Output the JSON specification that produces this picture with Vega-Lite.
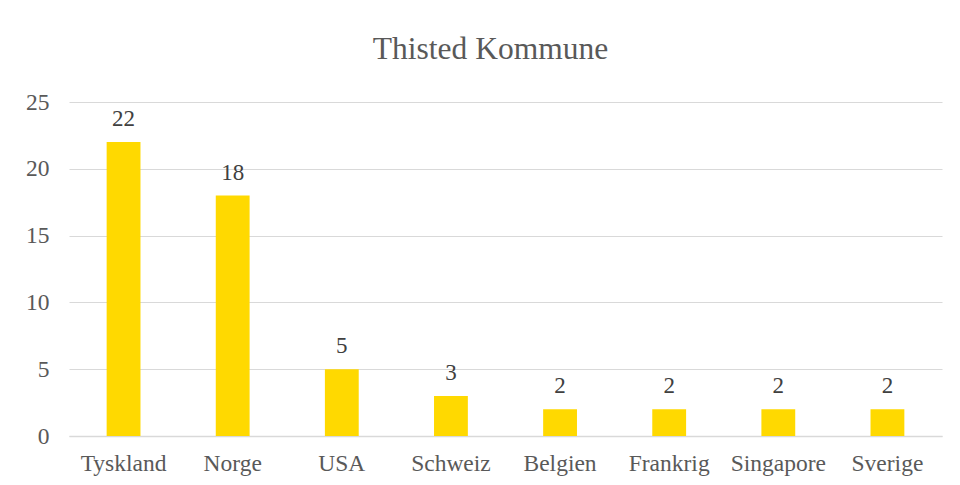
{
  "$schema": "https://vega.github.io/schema/vega-lite/v6.json",
  "autosize": "none",
  "width": 873,
  "height": 334,
  "padding": {"left": 69, "top": 102, "right": 18, "bottom": 49},
  "background": "white",
  "title": {
    "text": "Thisted Kommune",
    "font": "Liberation Serif",
    "fontSize": 31.5,
    "fontWeight": "normal",
    "color": "#595959",
    "anchor": "middle",
    "dx": -15,
    "offset": 25
  },
  "data": {
    "values": [
      {"land": "Tyskland", "antal": 22},
      {"land": "Norge", "antal": 18},
      {"land": "USA", "antal": 5},
      {"land": "Schweiz", "antal": 3},
      {"land": "Belgien", "antal": 2},
      {"land": "Frankrig", "antal": 2},
      {"land": "Singapore", "antal": 2},
      {"land": "Sverige", "antal": 2}
    ]
  },
  "encoding": {
    "x": {
      "field": "land",
      "type": "nominal",
      "sort": null,
      "scale": {"paddingInner": 0.69, "paddingOuter": 0.345},
      "axis": {
        "title": null,
        "labelAngle": 0,
        "labelFont": "Liberation Serif",
        "labelFontSize": 23.5,
        "labelColor": "#595959",
        "labelPadding": 15,
        "ticks": false,
        "domainColor": "#d9d9d9",
        "domainWidth": 1.5,
        "grid": false
      }
    },
    "y": {
      "field": "antal",
      "type": "quantitative",
      "scale": {"domain": [0, 25]},
      "axis": {
        "title": null,
        "values": [0, 5, 10, 15, 20, 25],
        "labelFont": "Liberation Serif",
        "labelFontSize": 23.5,
        "labelColor": "#595959",
        "labelPadding": 20,
        "ticks": false,
        "domain": false,
        "gridColor": "#d9d9d9",
        "gridWidth": 1.2
      }
    }
  },
  "layer": [
    {"mark": {"type": "bar", "color": "#FFD900"}},
    {
      "mark": {
        "type": "text",
        "baseline": "alphabetic",
        "dy": -16,
        "font": "Liberation Serif",
        "fontSize": 23,
        "color": "#404040"
      },
      "encoding": {"text": {"field": "antal", "type": "quantitative"}}
    }
  ],
  "config": {"view": {"stroke": null}}
}
